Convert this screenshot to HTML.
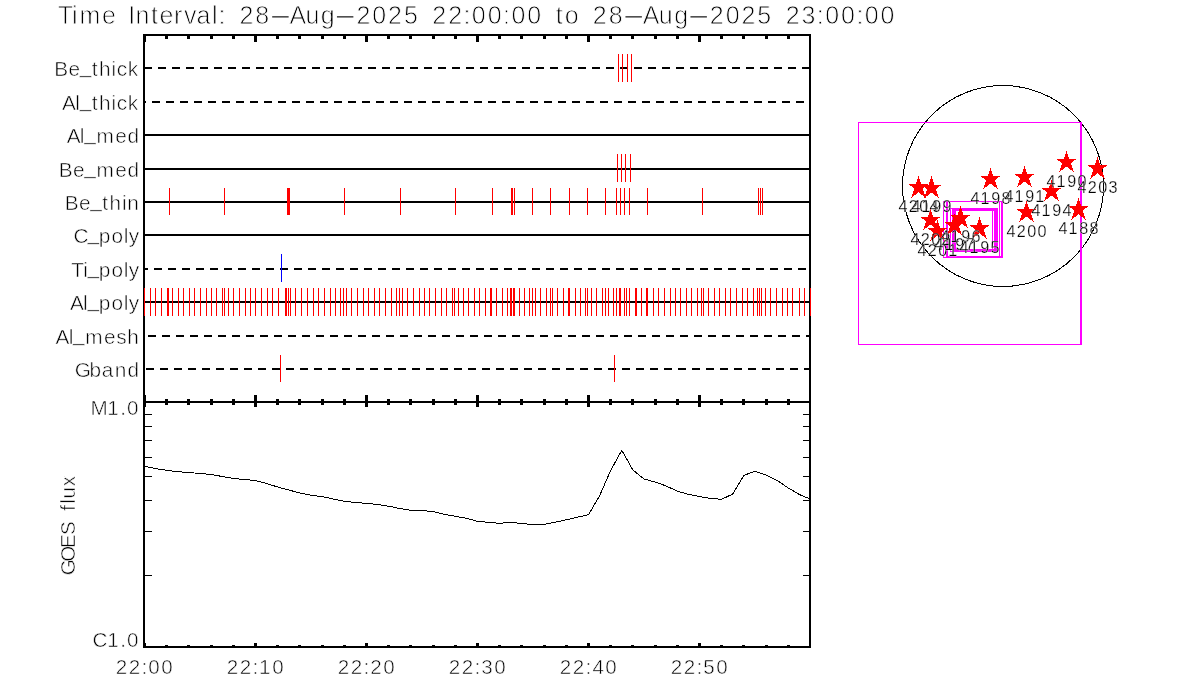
<!DOCTYPE html>
<html lang="en"><head><meta charset="utf-8"><title>Time Interval</title>
<style>
html,body{margin:0;padding:0;background:#fff;}
body{width:1200px;height:700px;overflow:hidden;}
svg{display:block;}
text{font-family:"Liberation Sans",sans-serif;fill:#000;white-space:pre;stroke:#fff;stroke-width:0.55px;}
</style></head><body>
<svg width="1200" height="700" viewBox="0 0 1200 700">
<rect x="0" y="0" width="1200" height="700" fill="#fff"/>
<text y="23.70" font-size="25.00" style="stroke-width:0.8px"><tspan x="57.70 72.05 79.41 101.88 118.78 128.26 135.43 151.09 159.60 173.99 183.99 196.59 211.96 218.39 228.67 239.42 255.23">Time Interval: 28</tspan><tspan x="267.46" textLength="25.82" lengthAdjust="spacingAndGlyphs">-</tspan><tspan x="289.42 305.46 320.73">Aug</tspan><tspan x="332.29" textLength="25.82" lengthAdjust="spacingAndGlyphs">-</tspan><tspan x="356.43 372.23 388.06 403.88 421.57 432.33 448.14 463.47 471.85 487.66 503.00 511.38 527.19 544.91 555.87 564.74 582.07 592.82 608.63">2025 22:00:00 to 28</tspan><tspan x="620.86" textLength="25.82" lengthAdjust="spacingAndGlyphs">-</tspan><tspan x="642.82 658.86 674.13">Aug</tspan><tspan x="685.69" textLength="25.82" lengthAdjust="spacingAndGlyphs">-</tspan><tspan x="709.83 725.63 741.45 757.28 774.97 785.73 801.60 816.87 825.24 841.06 856.40 864.77 880.59">2025 23:00:00</tspan></text>
<g shape-rendering="crispEdges" fill="#000">
<rect x="143" y="34" width="2" height="614"/>
<rect x="809" y="34" width="2" height="614"/>
<rect x="144" y="34" width="667" height="2"/>
<rect x="144" y="401" width="667" height="2"/>
<rect x="144" y="646" width="667" height="2"/>
<rect x="143" y="36" width="3" height="6"/>
<rect x="143" y="395" width="3" height="12"/>
<rect x="143" y="643" width="3" height="3"/>
<rect x="165" y="36" width="3" height="3"/>
<rect x="165" y="399" width="3" height="6"/>
<rect x="165" y="645" width="3" height="1"/>
<rect x="187" y="36" width="3" height="3"/>
<rect x="187" y="399" width="3" height="6"/>
<rect x="187" y="645" width="3" height="1"/>
<rect x="210" y="36" width="3" height="3"/>
<rect x="210" y="399" width="3" height="6"/>
<rect x="210" y="645" width="3" height="1"/>
<rect x="232" y="36" width="3" height="3"/>
<rect x="232" y="399" width="3" height="6"/>
<rect x="232" y="645" width="3" height="1"/>
<rect x="254" y="36" width="3" height="6"/>
<rect x="254" y="395" width="3" height="12"/>
<rect x="254" y="643" width="3" height="3"/>
<rect x="276" y="36" width="3" height="3"/>
<rect x="276" y="399" width="3" height="6"/>
<rect x="276" y="645" width="3" height="1"/>
<rect x="298" y="36" width="3" height="3"/>
<rect x="298" y="399" width="3" height="6"/>
<rect x="298" y="645" width="3" height="1"/>
<rect x="321" y="36" width="3" height="3"/>
<rect x="321" y="399" width="3" height="6"/>
<rect x="321" y="645" width="3" height="1"/>
<rect x="343" y="36" width="3" height="3"/>
<rect x="343" y="399" width="3" height="6"/>
<rect x="343" y="645" width="3" height="1"/>
<rect x="365" y="36" width="3" height="6"/>
<rect x="365" y="395" width="3" height="12"/>
<rect x="365" y="643" width="3" height="3"/>
<rect x="387" y="36" width="3" height="3"/>
<rect x="387" y="399" width="3" height="6"/>
<rect x="387" y="645" width="3" height="1"/>
<rect x="409" y="36" width="3" height="3"/>
<rect x="409" y="399" width="3" height="6"/>
<rect x="409" y="645" width="3" height="1"/>
<rect x="432" y="36" width="3" height="3"/>
<rect x="432" y="399" width="3" height="6"/>
<rect x="432" y="645" width="3" height="1"/>
<rect x="454" y="36" width="3" height="3"/>
<rect x="454" y="399" width="3" height="6"/>
<rect x="454" y="645" width="3" height="1"/>
<rect x="476" y="36" width="3" height="6"/>
<rect x="476" y="395" width="3" height="12"/>
<rect x="476" y="643" width="3" height="3"/>
<rect x="498" y="36" width="3" height="3"/>
<rect x="498" y="399" width="3" height="6"/>
<rect x="498" y="645" width="3" height="1"/>
<rect x="520" y="36" width="3" height="3"/>
<rect x="520" y="399" width="3" height="6"/>
<rect x="520" y="645" width="3" height="1"/>
<rect x="543" y="36" width="3" height="3"/>
<rect x="543" y="399" width="3" height="6"/>
<rect x="543" y="645" width="3" height="1"/>
<rect x="565" y="36" width="3" height="3"/>
<rect x="565" y="399" width="3" height="6"/>
<rect x="565" y="645" width="3" height="1"/>
<rect x="587" y="36" width="3" height="6"/>
<rect x="587" y="395" width="3" height="12"/>
<rect x="587" y="643" width="3" height="3"/>
<rect x="609" y="36" width="3" height="3"/>
<rect x="609" y="399" width="3" height="6"/>
<rect x="609" y="645" width="3" height="1"/>
<rect x="631" y="36" width="3" height="3"/>
<rect x="631" y="399" width="3" height="6"/>
<rect x="631" y="645" width="3" height="1"/>
<rect x="654" y="36" width="3" height="3"/>
<rect x="654" y="399" width="3" height="6"/>
<rect x="654" y="645" width="3" height="1"/>
<rect x="676" y="36" width="3" height="3"/>
<rect x="676" y="399" width="3" height="6"/>
<rect x="676" y="645" width="3" height="1"/>
<rect x="698" y="36" width="3" height="6"/>
<rect x="698" y="395" width="3" height="12"/>
<rect x="698" y="643" width="3" height="3"/>
<rect x="720" y="36" width="3" height="3"/>
<rect x="720" y="399" width="3" height="6"/>
<rect x="720" y="645" width="3" height="1"/>
<rect x="742" y="36" width="3" height="3"/>
<rect x="742" y="399" width="3" height="6"/>
<rect x="742" y="645" width="3" height="1"/>
<rect x="765" y="36" width="3" height="3"/>
<rect x="765" y="399" width="3" height="6"/>
<rect x="765" y="645" width="3" height="1"/>
<rect x="787" y="36" width="3" height="3"/>
<rect x="787" y="399" width="3" height="6"/>
<rect x="787" y="645" width="3" height="1"/>
<rect x="145" y="414" width="7" height="1"/>
<rect x="803" y="414" width="6" height="1"/>
<rect x="145" y="426" width="7" height="1"/>
<rect x="803" y="426" width="6" height="1"/>
<rect x="145" y="440" width="7" height="1"/>
<rect x="803" y="440" width="6" height="1"/>
<rect x="145" y="457" width="7" height="1"/>
<rect x="803" y="457" width="6" height="1"/>
<rect x="145" y="476" width="7" height="1"/>
<rect x="803" y="476" width="6" height="1"/>
<rect x="145" y="500" width="7" height="1"/>
<rect x="803" y="500" width="6" height="1"/>
<rect x="145" y="531" width="7" height="1"/>
<rect x="803" y="531" width="6" height="1"/>
<rect x="145" y="575" width="7" height="1"/>
<rect x="803" y="575" width="6" height="1"/>
</g>
<g shape-rendering="crispEdges" fill="#000">
<rect x="145" y="67" width="7" height="2"/>
<rect x="158" y="67" width="8" height="2"/>
<rect x="172" y="67" width="8" height="2"/>
<rect x="186" y="67" width="8" height="2"/>
<rect x="200" y="67" width="8" height="2"/>
<rect x="214" y="67" width="8" height="2"/>
<rect x="228" y="67" width="8" height="2"/>
<rect x="242" y="67" width="8" height="2"/>
<rect x="256" y="67" width="8" height="2"/>
<rect x="270" y="67" width="8" height="2"/>
<rect x="284" y="67" width="8" height="2"/>
<rect x="298" y="67" width="8" height="2"/>
<rect x="312" y="67" width="8" height="2"/>
<rect x="326" y="67" width="8" height="2"/>
<rect x="340" y="67" width="8" height="2"/>
<rect x="354" y="67" width="8" height="2"/>
<rect x="368" y="67" width="8" height="2"/>
<rect x="382" y="67" width="8" height="2"/>
<rect x="396" y="67" width="8" height="2"/>
<rect x="410" y="67" width="8" height="2"/>
<rect x="424" y="67" width="8" height="2"/>
<rect x="438" y="67" width="8" height="2"/>
<rect x="452" y="67" width="8" height="2"/>
<rect x="466" y="67" width="8" height="2"/>
<rect x="480" y="67" width="8" height="2"/>
<rect x="494" y="67" width="8" height="2"/>
<rect x="508" y="67" width="8" height="2"/>
<rect x="522" y="67" width="8" height="2"/>
<rect x="536" y="67" width="8" height="2"/>
<rect x="550" y="67" width="8" height="2"/>
<rect x="564" y="67" width="8" height="2"/>
<rect x="578" y="67" width="8" height="2"/>
<rect x="592" y="67" width="8" height="2"/>
<rect x="606" y="67" width="8" height="2"/>
<rect x="620" y="67" width="8" height="2"/>
<rect x="634" y="67" width="8" height="2"/>
<rect x="648" y="67" width="8" height="2"/>
<rect x="662" y="67" width="8" height="2"/>
<rect x="676" y="67" width="8" height="2"/>
<rect x="690" y="67" width="8" height="2"/>
<rect x="704" y="67" width="8" height="2"/>
<rect x="718" y="67" width="8" height="2"/>
<rect x="732" y="67" width="8" height="2"/>
<rect x="746" y="67" width="8" height="2"/>
<rect x="760" y="67" width="8" height="2"/>
<rect x="774" y="67" width="8" height="2"/>
<rect x="788" y="67" width="8" height="2"/>
<rect x="802" y="67" width="7" height="2"/>
<rect x="145" y="101" width="1" height="2"/>
<rect x="152" y="101" width="8" height="2"/>
<rect x="166" y="101" width="8" height="2"/>
<rect x="180" y="101" width="8" height="2"/>
<rect x="194" y="101" width="8" height="2"/>
<rect x="208" y="101" width="8" height="2"/>
<rect x="222" y="101" width="8" height="2"/>
<rect x="236" y="101" width="8" height="2"/>
<rect x="250" y="101" width="8" height="2"/>
<rect x="264" y="101" width="8" height="2"/>
<rect x="278" y="101" width="8" height="2"/>
<rect x="292" y="101" width="8" height="2"/>
<rect x="306" y="101" width="8" height="2"/>
<rect x="320" y="101" width="8" height="2"/>
<rect x="334" y="101" width="8" height="2"/>
<rect x="348" y="101" width="8" height="2"/>
<rect x="362" y="101" width="8" height="2"/>
<rect x="376" y="101" width="8" height="2"/>
<rect x="390" y="101" width="8" height="2"/>
<rect x="404" y="101" width="8" height="2"/>
<rect x="418" y="101" width="8" height="2"/>
<rect x="432" y="101" width="8" height="2"/>
<rect x="446" y="101" width="8" height="2"/>
<rect x="460" y="101" width="8" height="2"/>
<rect x="474" y="101" width="8" height="2"/>
<rect x="488" y="101" width="8" height="2"/>
<rect x="502" y="101" width="8" height="2"/>
<rect x="516" y="101" width="8" height="2"/>
<rect x="530" y="101" width="8" height="2"/>
<rect x="544" y="101" width="8" height="2"/>
<rect x="558" y="101" width="8" height="2"/>
<rect x="572" y="101" width="8" height="2"/>
<rect x="586" y="101" width="8" height="2"/>
<rect x="600" y="101" width="8" height="2"/>
<rect x="614" y="101" width="8" height="2"/>
<rect x="628" y="101" width="8" height="2"/>
<rect x="642" y="101" width="8" height="2"/>
<rect x="656" y="101" width="8" height="2"/>
<rect x="670" y="101" width="8" height="2"/>
<rect x="684" y="101" width="8" height="2"/>
<rect x="698" y="101" width="8" height="2"/>
<rect x="712" y="101" width="8" height="2"/>
<rect x="726" y="101" width="8" height="2"/>
<rect x="740" y="101" width="8" height="2"/>
<rect x="754" y="101" width="8" height="2"/>
<rect x="768" y="101" width="8" height="2"/>
<rect x="782" y="101" width="8" height="2"/>
<rect x="796" y="101" width="8" height="2"/>
<rect x="145" y="134" width="664" height="2"/>
<rect x="145" y="168" width="664" height="2"/>
<rect x="145" y="201" width="664" height="2"/>
<rect x="145" y="234" width="664" height="2"/>
<rect x="145" y="268" width="3" height="2"/>
<rect x="154" y="268" width="8" height="2"/>
<rect x="168" y="268" width="8" height="2"/>
<rect x="182" y="268" width="8" height="2"/>
<rect x="196" y="268" width="8" height="2"/>
<rect x="210" y="268" width="8" height="2"/>
<rect x="224" y="268" width="8" height="2"/>
<rect x="238" y="268" width="8" height="2"/>
<rect x="252" y="268" width="8" height="2"/>
<rect x="266" y="268" width="8" height="2"/>
<rect x="280" y="268" width="8" height="2"/>
<rect x="294" y="268" width="8" height="2"/>
<rect x="308" y="268" width="8" height="2"/>
<rect x="322" y="268" width="8" height="2"/>
<rect x="336" y="268" width="8" height="2"/>
<rect x="350" y="268" width="8" height="2"/>
<rect x="364" y="268" width="8" height="2"/>
<rect x="378" y="268" width="8" height="2"/>
<rect x="392" y="268" width="8" height="2"/>
<rect x="406" y="268" width="8" height="2"/>
<rect x="420" y="268" width="8" height="2"/>
<rect x="434" y="268" width="8" height="2"/>
<rect x="448" y="268" width="8" height="2"/>
<rect x="462" y="268" width="8" height="2"/>
<rect x="476" y="268" width="8" height="2"/>
<rect x="490" y="268" width="8" height="2"/>
<rect x="504" y="268" width="8" height="2"/>
<rect x="518" y="268" width="8" height="2"/>
<rect x="532" y="268" width="8" height="2"/>
<rect x="546" y="268" width="8" height="2"/>
<rect x="560" y="268" width="8" height="2"/>
<rect x="574" y="268" width="8" height="2"/>
<rect x="588" y="268" width="8" height="2"/>
<rect x="602" y="268" width="8" height="2"/>
<rect x="616" y="268" width="8" height="2"/>
<rect x="630" y="268" width="8" height="2"/>
<rect x="644" y="268" width="8" height="2"/>
<rect x="658" y="268" width="8" height="2"/>
<rect x="672" y="268" width="8" height="2"/>
<rect x="686" y="268" width="8" height="2"/>
<rect x="700" y="268" width="8" height="2"/>
<rect x="714" y="268" width="8" height="2"/>
<rect x="728" y="268" width="8" height="2"/>
<rect x="742" y="268" width="8" height="2"/>
<rect x="756" y="268" width="8" height="2"/>
<rect x="770" y="268" width="8" height="2"/>
<rect x="784" y="268" width="8" height="2"/>
<rect x="798" y="268" width="8" height="2"/>
<rect x="145" y="301" width="664" height="2"/>
<rect x="148" y="335" width="8" height="2"/>
<rect x="162" y="335" width="8" height="2"/>
<rect x="176" y="335" width="8" height="2"/>
<rect x="190" y="335" width="8" height="2"/>
<rect x="204" y="335" width="8" height="2"/>
<rect x="218" y="335" width="8" height="2"/>
<rect x="232" y="335" width="8" height="2"/>
<rect x="246" y="335" width="8" height="2"/>
<rect x="260" y="335" width="8" height="2"/>
<rect x="274" y="335" width="8" height="2"/>
<rect x="288" y="335" width="8" height="2"/>
<rect x="302" y="335" width="8" height="2"/>
<rect x="316" y="335" width="8" height="2"/>
<rect x="330" y="335" width="8" height="2"/>
<rect x="344" y="335" width="8" height="2"/>
<rect x="358" y="335" width="8" height="2"/>
<rect x="372" y="335" width="8" height="2"/>
<rect x="386" y="335" width="8" height="2"/>
<rect x="400" y="335" width="8" height="2"/>
<rect x="414" y="335" width="8" height="2"/>
<rect x="428" y="335" width="8" height="2"/>
<rect x="442" y="335" width="8" height="2"/>
<rect x="456" y="335" width="8" height="2"/>
<rect x="470" y="335" width="8" height="2"/>
<rect x="484" y="335" width="8" height="2"/>
<rect x="498" y="335" width="8" height="2"/>
<rect x="512" y="335" width="8" height="2"/>
<rect x="526" y="335" width="8" height="2"/>
<rect x="540" y="335" width="8" height="2"/>
<rect x="554" y="335" width="8" height="2"/>
<rect x="568" y="335" width="8" height="2"/>
<rect x="582" y="335" width="8" height="2"/>
<rect x="596" y="335" width="8" height="2"/>
<rect x="610" y="335" width="8" height="2"/>
<rect x="624" y="335" width="8" height="2"/>
<rect x="638" y="335" width="8" height="2"/>
<rect x="652" y="335" width="8" height="2"/>
<rect x="666" y="335" width="8" height="2"/>
<rect x="680" y="335" width="8" height="2"/>
<rect x="694" y="335" width="8" height="2"/>
<rect x="708" y="335" width="8" height="2"/>
<rect x="722" y="335" width="8" height="2"/>
<rect x="736" y="335" width="8" height="2"/>
<rect x="750" y="335" width="8" height="2"/>
<rect x="764" y="335" width="8" height="2"/>
<rect x="778" y="335" width="8" height="2"/>
<rect x="792" y="335" width="8" height="2"/>
<rect x="806" y="335" width="3" height="2"/>
<rect x="146" y="368" width="8" height="2"/>
<rect x="160" y="368" width="8" height="2"/>
<rect x="174" y="368" width="8" height="2"/>
<rect x="188" y="368" width="8" height="2"/>
<rect x="202" y="368" width="8" height="2"/>
<rect x="216" y="368" width="8" height="2"/>
<rect x="230" y="368" width="8" height="2"/>
<rect x="244" y="368" width="8" height="2"/>
<rect x="258" y="368" width="8" height="2"/>
<rect x="272" y="368" width="8" height="2"/>
<rect x="286" y="368" width="8" height="2"/>
<rect x="300" y="368" width="8" height="2"/>
<rect x="314" y="368" width="8" height="2"/>
<rect x="328" y="368" width="8" height="2"/>
<rect x="342" y="368" width="8" height="2"/>
<rect x="356" y="368" width="8" height="2"/>
<rect x="370" y="368" width="8" height="2"/>
<rect x="384" y="368" width="8" height="2"/>
<rect x="398" y="368" width="8" height="2"/>
<rect x="412" y="368" width="8" height="2"/>
<rect x="426" y="368" width="8" height="2"/>
<rect x="440" y="368" width="8" height="2"/>
<rect x="454" y="368" width="8" height="2"/>
<rect x="468" y="368" width="8" height="2"/>
<rect x="482" y="368" width="8" height="2"/>
<rect x="496" y="368" width="8" height="2"/>
<rect x="510" y="368" width="8" height="2"/>
<rect x="524" y="368" width="8" height="2"/>
<rect x="538" y="368" width="8" height="2"/>
<rect x="552" y="368" width="8" height="2"/>
<rect x="566" y="368" width="8" height="2"/>
<rect x="580" y="368" width="8" height="2"/>
<rect x="594" y="368" width="8" height="2"/>
<rect x="608" y="368" width="8" height="2"/>
<rect x="622" y="368" width="8" height="2"/>
<rect x="636" y="368" width="8" height="2"/>
<rect x="650" y="368" width="8" height="2"/>
<rect x="664" y="368" width="8" height="2"/>
<rect x="678" y="368" width="8" height="2"/>
<rect x="692" y="368" width="8" height="2"/>
<rect x="706" y="368" width="8" height="2"/>
<rect x="720" y="368" width="8" height="2"/>
<rect x="734" y="368" width="8" height="2"/>
<rect x="748" y="368" width="8" height="2"/>
<rect x="762" y="368" width="8" height="2"/>
<rect x="776" y="368" width="8" height="2"/>
<rect x="790" y="368" width="8" height="2"/>
<rect x="804" y="368" width="5" height="2"/>
</g>
<text x="54.20 68.50 79.69 91.65 98.97 111.38 116.85 127.80" y="75.90" font-size="20.80" dy="0.00 0.00 -3.33 3.33 0.00 0.00 0.00 0.00">Be_thick</text>
<text x="62.06 75.22 79.69 91.65 98.97 111.38 116.85 127.80" y="109.90" font-size="20.80" dy="0.00 0.00 -3.33 3.33 0.00 0.00 0.00 0.00">Al_thick</text>
<text x="66.66 79.82 84.28 96.46 115.14 127.50" y="142.90" font-size="20.80" dy="0.00 0.00 -3.33 3.33 0.00 0.00">Al_med</text>
<text x="58.80 73.09 84.28 96.46 115.14 127.50" y="176.90" font-size="20.80" dy="0.00 0.00 -3.33 3.33 0.00 0.00">Be_med</text>
<text x="64.71 79.01 90.20 102.16 109.49 121.89 127.26" y="209.90" font-size="20.80" dy="0.00 0.00 -3.33 3.33 0.00 0.00 0.00">Be_thin</text>
<text x="73.51 87.57 98.79 111.50 123.84 128.84" y="242.90" font-size="20.80" dy="0.00 -3.33 3.33 0.00 0.00 0.00">C_poly</text>
<text x="71.20 83.13 87.57 98.79 111.50 123.84 128.84" y="276.90" font-size="20.80" dy="0.00 0.00 -3.33 3.33 0.00 0.00 0.00">Ti_poly</text>
<text x="69.95 83.11 87.57 98.79 111.50 123.84 128.84" y="309.90" font-size="20.80" dy="0.00 0.00 -3.33 3.33 0.00 0.00 0.00">Al_poly</text>
<text x="55.49 68.65 73.12 85.29 103.97 116.13 127.22" y="343.90" font-size="20.80" dy="0.00 0.00 -3.33 3.33 0.00 0.00 0.00">Al_mesh</text>
<text x="74.63 89.59 101.86 114.77 127.50" y="376.90" font-size="20.80">Gband</text>
<g shape-rendering="crispEdges" fill="#f00">
<rect x="618" y="54" width="1" height="28"/>
<rect x="622" y="54" width="1" height="28"/>
<rect x="627" y="54" width="1" height="28"/>
<rect x="631" y="54" width="1" height="28"/>
<rect x="617" y="154" width="1" height="28"/>
<rect x="621" y="154" width="1" height="28"/>
<rect x="625" y="154" width="1" height="28"/>
<rect x="630" y="154" width="1" height="28"/>
<rect x="169" y="188" width="1" height="27"/>
<rect x="224" y="188" width="1" height="27"/>
<rect x="287" y="188" width="1" height="27"/>
<rect x="288" y="188" width="1" height="27"/>
<rect x="289" y="188" width="1" height="27"/>
<rect x="344" y="188" width="1" height="27"/>
<rect x="400" y="188" width="1" height="27"/>
<rect x="455" y="188" width="1" height="27"/>
<rect x="492" y="188" width="1" height="27"/>
<rect x="511" y="188" width="1" height="27"/>
<rect x="512" y="188" width="1" height="27"/>
<rect x="514" y="188" width="1" height="27"/>
<rect x="532" y="188" width="1" height="27"/>
<rect x="550" y="188" width="1" height="27"/>
<rect x="569" y="188" width="1" height="27"/>
<rect x="587" y="188" width="1" height="27"/>
<rect x="605" y="188" width="1" height="27"/>
<rect x="616" y="188" width="1" height="27"/>
<rect x="620" y="188" width="1" height="27"/>
<rect x="624" y="188" width="1" height="27"/>
<rect x="629" y="188" width="1" height="27"/>
<rect x="647" y="188" width="1" height="27"/>
<rect x="702" y="188" width="1" height="27"/>
<rect x="758" y="188" width="1" height="27"/>
<rect x="760" y="188" width="1" height="27"/>
<rect x="762" y="188" width="1" height="27"/>
<rect x="144" y="288" width="1" height="28"/>
<rect x="150" y="288" width="1" height="28"/>
<rect x="155" y="288" width="1" height="28"/>
<rect x="161" y="288" width="1" height="28"/>
<rect x="167" y="288" width="1" height="28"/>
<rect x="168" y="288" width="1" height="28"/>
<rect x="172" y="288" width="1" height="28"/>
<rect x="178" y="288" width="1" height="28"/>
<rect x="183" y="288" width="1" height="28"/>
<rect x="189" y="288" width="1" height="28"/>
<rect x="194" y="288" width="1" height="28"/>
<rect x="200" y="288" width="1" height="28"/>
<rect x="206" y="288" width="1" height="28"/>
<rect x="211" y="288" width="1" height="28"/>
<rect x="216" y="288" width="1" height="28"/>
<rect x="222" y="288" width="1" height="28"/>
<rect x="224" y="288" width="1" height="28"/>
<rect x="228" y="288" width="1" height="28"/>
<rect x="233" y="288" width="1" height="28"/>
<rect x="239" y="288" width="1" height="28"/>
<rect x="245" y="288" width="1" height="28"/>
<rect x="250" y="288" width="1" height="28"/>
<rect x="255" y="288" width="1" height="28"/>
<rect x="261" y="288" width="1" height="28"/>
<rect x="267" y="288" width="1" height="28"/>
<rect x="272" y="288" width="1" height="28"/>
<rect x="278" y="288" width="1" height="28"/>
<rect x="285" y="288" width="1" height="28"/>
<rect x="286" y="288" width="1" height="28"/>
<rect x="288" y="288" width="1" height="28"/>
<rect x="290" y="288" width="1" height="28"/>
<rect x="295" y="288" width="1" height="28"/>
<rect x="301" y="288" width="1" height="28"/>
<rect x="307" y="288" width="1" height="28"/>
<rect x="313" y="288" width="1" height="28"/>
<rect x="318" y="288" width="1" height="28"/>
<rect x="324" y="288" width="1" height="28"/>
<rect x="330" y="288" width="1" height="28"/>
<rect x="335" y="288" width="1" height="28"/>
<rect x="340" y="288" width="1" height="28"/>
<rect x="343" y="288" width="1" height="28"/>
<rect x="346" y="288" width="1" height="28"/>
<rect x="351" y="288" width="1" height="28"/>
<rect x="357" y="288" width="1" height="28"/>
<rect x="363" y="288" width="1" height="28"/>
<rect x="368" y="288" width="1" height="28"/>
<rect x="374" y="288" width="1" height="28"/>
<rect x="379" y="288" width="1" height="28"/>
<rect x="385" y="288" width="1" height="28"/>
<rect x="391" y="288" width="1" height="28"/>
<rect x="396" y="288" width="1" height="28"/>
<rect x="399" y="288" width="1" height="28"/>
<rect x="402" y="288" width="1" height="28"/>
<rect x="407" y="288" width="1" height="28"/>
<rect x="413" y="288" width="1" height="28"/>
<rect x="419" y="288" width="1" height="28"/>
<rect x="424" y="288" width="1" height="28"/>
<rect x="429" y="288" width="1" height="28"/>
<rect x="435" y="288" width="1" height="28"/>
<rect x="441" y="288" width="1" height="28"/>
<rect x="446" y="288" width="1" height="28"/>
<rect x="452" y="288" width="1" height="28"/>
<rect x="454" y="288" width="1" height="28"/>
<rect x="458" y="288" width="1" height="28"/>
<rect x="463" y="288" width="1" height="28"/>
<rect x="468" y="288" width="1" height="28"/>
<rect x="474" y="288" width="1" height="28"/>
<rect x="479" y="288" width="1" height="28"/>
<rect x="485" y="288" width="1" height="28"/>
<rect x="490" y="288" width="1" height="28"/>
<rect x="491" y="288" width="1" height="28"/>
<rect x="496" y="288" width="1" height="28"/>
<rect x="502" y="288" width="1" height="28"/>
<rect x="507" y="288" width="1" height="28"/>
<rect x="510" y="288" width="1" height="28"/>
<rect x="511" y="288" width="1" height="28"/>
<rect x="513" y="288" width="1" height="28"/>
<rect x="514" y="288" width="1" height="28"/>
<rect x="519" y="288" width="1" height="28"/>
<rect x="524" y="288" width="1" height="28"/>
<rect x="529" y="288" width="1" height="28"/>
<rect x="532" y="288" width="1" height="28"/>
<rect x="535" y="288" width="1" height="28"/>
<rect x="540" y="288" width="1" height="28"/>
<rect x="546" y="288" width="1" height="28"/>
<rect x="550" y="288" width="1" height="28"/>
<rect x="552" y="288" width="1" height="28"/>
<rect x="557" y="288" width="1" height="28"/>
<rect x="563" y="288" width="1" height="28"/>
<rect x="568" y="288" width="1" height="28"/>
<rect x="569" y="288" width="1" height="28"/>
<rect x="575" y="288" width="1" height="28"/>
<rect x="580" y="288" width="1" height="28"/>
<rect x="585" y="288" width="1" height="28"/>
<rect x="587" y="288" width="1" height="28"/>
<rect x="591" y="288" width="1" height="28"/>
<rect x="596" y="288" width="1" height="28"/>
<rect x="602" y="288" width="1" height="28"/>
<rect x="605" y="288" width="1" height="28"/>
<rect x="608" y="288" width="1" height="28"/>
<rect x="613" y="288" width="1" height="28"/>
<rect x="616" y="288" width="1" height="28"/>
<rect x="619" y="288" width="1" height="28"/>
<rect x="620" y="288" width="1" height="28"/>
<rect x="624" y="288" width="1" height="28"/>
<rect x="626" y="288" width="1" height="28"/>
<rect x="629" y="288" width="1" height="28"/>
<rect x="635" y="288" width="1" height="28"/>
<rect x="636" y="288" width="1" height="28"/>
<rect x="641" y="288" width="1" height="28"/>
<rect x="646" y="288" width="1" height="28"/>
<rect x="647" y="288" width="1" height="28"/>
<rect x="653" y="288" width="1" height="28"/>
<rect x="658" y="288" width="1" height="28"/>
<rect x="664" y="288" width="1" height="28"/>
<rect x="670" y="288" width="1" height="28"/>
<rect x="675" y="288" width="1" height="28"/>
<rect x="680" y="288" width="1" height="28"/>
<rect x="686" y="288" width="1" height="28"/>
<rect x="691" y="288" width="1" height="28"/>
<rect x="697" y="288" width="1" height="28"/>
<rect x="701" y="288" width="1" height="28"/>
<rect x="703" y="288" width="1" height="28"/>
<rect x="708" y="288" width="1" height="28"/>
<rect x="714" y="288" width="1" height="28"/>
<rect x="719" y="288" width="1" height="28"/>
<rect x="725" y="288" width="1" height="28"/>
<rect x="730" y="288" width="1" height="28"/>
<rect x="736" y="288" width="1" height="28"/>
<rect x="742" y="288" width="1" height="28"/>
<rect x="747" y="288" width="1" height="28"/>
<rect x="753" y="288" width="1" height="28"/>
<rect x="757" y="288" width="1" height="28"/>
<rect x="759" y="288" width="1" height="28"/>
<rect x="761" y="288" width="1" height="28"/>
<rect x="765" y="288" width="1" height="28"/>
<rect x="770" y="288" width="1" height="28"/>
<rect x="776" y="288" width="1" height="28"/>
<rect x="782" y="288" width="1" height="28"/>
<rect x="787" y="288" width="1" height="28"/>
<rect x="792" y="288" width="1" height="28"/>
<rect x="799" y="288" width="1" height="28"/>
<rect x="804" y="288" width="1" height="28"/>
<rect x="810" y="288" width="1" height="28"/>
<rect x="280" y="355" width="1" height="27"/>
<rect x="614" y="355" width="1" height="27"/>
</g>
<rect shape-rendering="crispEdges" x="281" y="254" width="1" height="28" fill="#00f"/>
<text x="90.42 107.28 120.19 127.06" y="415.10" font-size="20.60">M1.0</text>
<text x="92.40 107.28 120.19 127.06" y="647.20" font-size="20.60">C1.0</text>
<g transform="translate(74.6,525) rotate(-90)"><text x="-50.33 -36.80 -22.96 -10.07 5.46 14.25 21.38 26.61 38.68" y="0.00" font-size="20.60">GOES flux</text></g>
<text x="115.82 128.82 141.44 148.31 161.31" y="674.10" font-size="20.60">22:00</text>
<text x="226.82 239.82 252.44 259.03 272.31" y="674.10" font-size="20.60">22:10</text>
<text x="337.82 350.82 363.44 370.32 383.31" y="674.10" font-size="20.60">22:20</text>
<text x="448.82 461.82 474.44 481.37 494.31" y="674.10" font-size="20.60">22:30</text>
<text x="559.82 572.82 585.44 592.40 605.31" y="674.10" font-size="20.60">22:40</text>
<text x="670.82 683.82 696.44 703.33 716.31" y="674.10" font-size="20.60">22:50</text>
<polyline shape-rendering="crispEdges" fill="none" stroke="#000" stroke-width="1" points="144.5,466.3 155.6,468.6 166.7,470.3 177.8,471.7 188.9,472.5 200.0,473.5 211.1,474.5 222.2,476.5 233.3,478.5 244.4,479.5 255.5,480.5 266.6,483.5 277.7,487.0 288.8,490.0 299.9,493.0 311.0,495.3 322.1,496.6 333.2,499.0 344.3,501.3 355.4,502.5 366.5,503.4 377.6,504.5 388.7,506.2 399.8,508.5 410.9,510.3 422.0,510.6 433.1,511.5 444.2,514.3 455.3,516.3 466.4,518.3 477.5,521.3 488.6,522.4 499.7,523.3 510.8,522.3 521.9,523.5 533.0,524.6 544.1,524.4 555.2,522.2 566.3,519.8 577.4,517.2 588.5,514.7 599.6,495.7 610.7,470.4 621.8,450.3 632.9,470.0 644.0,479.0 655.1,482.0 666.2,486.0 677.3,491.2 688.4,494.3 699.5,496.6 710.6,498.4 721.7,499.3 732.8,494.0 743.9,475.3 755.0,471.3 766.1,475.0 777.2,480.5 788.3,488.0 799.4,494.5 810.5,499.2"/>
<g shape-rendering="crispEdges" fill="#f0f">
<rect x="943" y="201" width="60" height="1"/>
<rect x="943" y="257" width="60" height="1"/>
<rect x="943" y="201" width="1" height="57"/>
<rect x="1002" y="201" width="1" height="57"/>
<rect x="946" y="201" width="56" height="1"/>
<rect x="946" y="256" width="56" height="1"/>
<rect x="946" y="201" width="1" height="56"/>
<rect x="1001" y="201" width="1" height="56"/>
<rect x="947" y="201" width="53" height="1"/>
<rect x="947" y="256" width="53" height="1"/>
<rect x="947" y="201" width="1" height="56"/>
<rect x="999" y="201" width="1" height="56"/>
<rect x="950" y="208" width="43" height="1"/>
<rect x="950" y="251" width="43" height="1"/>
<rect x="950" y="208" width="1" height="44"/>
<rect x="992" y="208" width="1" height="44"/>
<rect x="952" y="208" width="46" height="3"/>
<rect x="952" y="249" width="46" height="3"/>
<rect x="952" y="208" width="4" height="44"/>
<rect x="994" y="208" width="4" height="44"/>
</g>
<circle shape-rendering="crispEdges" cx="1003" cy="186" r="100.5" fill="none" stroke="#000" stroke-width="1"/>
<g shape-rendering="crispEdges" fill="#f0f">
<rect x="858" y="122" width="224" height="1"/>
<rect x="858" y="344" width="224" height="1"/>
<rect x="858" y="122" width="1" height="223"/>
<rect x="1080" y="122" width="2" height="223"/>
</g>
<g shape-rendering="crispEdges" fill="#f00" fill-rule="nonzero">
<polygon points="918.5,175.9 925.9,198.1 908.9,184.3 928.1,184.3 911.1,198.1"/>
<polygon points="931.5,175.9 938.9,198.1 921.9,185.3 941.1,185.3 924.1,198.1"/>
<polygon points="990.5,167.9 997.9,189.1 980.9,176.3 1000.1,176.3 983.1,189.1"/>
<polygon points="1024.5,165.9 1031.9,187.1 1014.9,174.3 1034.1,174.3 1017.1,187.1"/>
<polygon points="1066.5,150.9 1073.9,172.1 1056.9,159.3 1076.1,159.3 1059.1,172.1"/>
<polygon points="1097.5,156.9 1104.9,179.1 1087.9,165.3 1107.1,165.3 1090.1,179.1"/>
<polygon points="1051.5,179.9 1058.9,201.1 1041.9,188.3 1061.1,188.3 1044.1,201.1"/>
<polygon points="1078.5,197.9 1085.9,220.1 1068.9,206.3 1088.1,206.3 1071.1,220.1"/>
<polygon points="1026.5,200.9 1033.9,222.1 1016.9,209.3 1036.1,209.3 1019.1,222.1"/>
<polygon points="930.5,208.9 937.9,230.1 920.9,217.3 940.1,217.3 923.1,230.1"/>
<polygon points="937.5,219.9 944.9,241.1 927.9,228.3 947.1,228.3 930.1,241.1"/>
<polygon points="960.5,205.9 967.9,228.1 950.9,215.3 970.1,215.3 953.1,228.1"/>
<polygon points="954.5,213.9 961.9,235.1 944.9,222.3 964.1,222.3 947.1,235.1"/>
<polygon points="979.5,216.9 986.9,239.1 969.9,225.3 989.1,225.3 972.1,239.1"/>
</g>
<g>
<text x="898.60 908.85 919.14 929.50" y="212.30" font-size="16.20" style="stroke-width:0.25px">4204</text>
<text x="911.60 921.62 932.15 942.45" y="212.30" font-size="16.20" style="stroke-width:0.25px">4199</text>
<text x="970.60 980.62 991.15 1001.45" y="204.30" font-size="16.20" style="stroke-width:0.25px">4198</text>
<text x="1004.60 1014.62 1025.15 1035.22" y="202.30" font-size="16.20" style="stroke-width:0.25px">4191</text>
<text x="1046.60 1056.62 1067.15 1077.44" y="187.30" font-size="16.20" style="stroke-width:0.25px">4190</text>
<text x="1077.60 1087.85 1098.14 1108.49" y="193.30" font-size="16.20" style="stroke-width:0.25px">4203</text>
<text x="1031.60 1041.62 1052.15 1062.50" y="216.30" font-size="16.20" style="stroke-width:0.25px">4194</text>
<text x="1058.60 1068.62 1079.15 1089.45" y="234.30" font-size="16.20" style="stroke-width:0.25px">4188</text>
<text x="1006.60 1016.85 1027.14 1037.44" y="237.30" font-size="16.20" style="stroke-width:0.25px">4200</text>
<text x="910.60 920.85 931.14 941.45" y="245.30" font-size="16.20" style="stroke-width:0.25px">4202</text>
<text x="917.60 927.85 938.14 948.22" y="256.30" font-size="16.20" style="stroke-width:0.25px">4201</text>
<text x="940.60 950.62 961.15 971.39" y="242.30" font-size="16.20" style="stroke-width:0.25px">4196</text>
<text x="934.60 944.62 955.15 965.44" y="250.30" font-size="16.20" style="stroke-width:0.25px">4197</text>
<text x="959.60 969.62 980.15 990.45" y="253.30" font-size="16.20" style="stroke-width:0.25px">4195</text>
</g>
</svg></body></html>
